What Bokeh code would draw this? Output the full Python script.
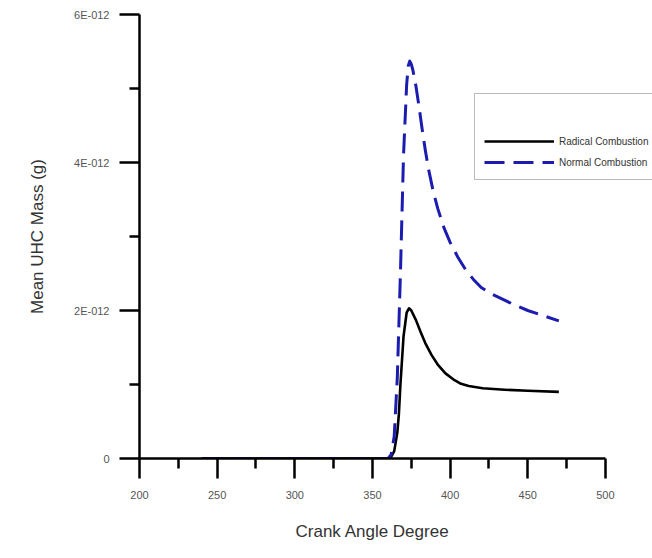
from bokeh.plotting import figure
from bokeh.models import Range1d, FixedTicker, CustomJSTickFormatter, Legend, LegendItem, Title
from bokeh.embed import file_html
from bokeh.resources import INLINE

# ---- data (crank angle in degrees, mean UHC mass in g) ----
normal_x = [240, 300, 360, 362, 364, 366, 368, 370, 372, 373, 374, 375, 376, 378, 380, 382, 384, 386,
            389, 392, 396, 400, 405, 410, 415, 420, 427, 434, 442, 450, 460, 470]
normal_y = [0, 0, 0, 0.05e-12, 0.3e-12, 1.1e-12, 2.5e-12, 4.1e-12, 5.05e-12, 5.3e-12, 5.37e-12,
            5.33e-12, 5.25e-12, 5.03e-12, 4.75e-12, 4.45e-12, 4.17e-12, 3.92e-12, 3.62e-12,
            3.38e-12, 3.12e-12, 2.92e-12, 2.72e-12, 2.55e-12, 2.42e-12, 2.31e-12, 2.22e-12,
            2.15e-12, 2.07e-12, 2.0e-12, 1.93e-12, 1.86e-12]

radical_x = [240, 300, 360, 362, 364, 366, 367, 368, 370, 372, 373.5, 375, 378, 381, 384, 388, 392,
             397, 402, 407, 412, 421, 435, 450, 470]
radical_y = [0, 0, 0, 0.02e-12, 0.1e-12, 0.35e-12, 0.6e-12, 1.0e-12, 1.65e-12, 1.97e-12, 2.03e-12,
             2.0e-12, 1.87e-12, 1.71e-12, 1.56e-12, 1.40e-12, 1.27e-12, 1.15e-12, 1.07e-12,
             1.01e-12, 0.98e-12, 0.95e-12, 0.93e-12, 0.915e-12, 0.90e-12]

x_ticks = [200, 250, 300, 350, 400, 450, 500]
x_minor = [225, 275, 325, 375, 425, 475]
y_ticks = [0, 2e-12, 4e-12, 6e-12]
y_minor = [1e-12, 3e-12, 5e-12]

x_label = "Crank Angle Degree"
y_label = "Mean UHC Mass (g)"
series_names = ["Radical Combustion", "Normal Combustion"]

# frame runs to the right edge so the legend can reach it; axis itself stops at 500
p = figure(width=652, height=558, output_backend="svg", toolbar_location=None,
           x_range=Range1d(200, 530.3), y_range=Range1d(0, 6e-12),
           min_border_left=139, min_border_right=0, min_border_top=14, min_border_bottom=100)
p.outline_line_color = None
p.xgrid.visible = False
p.ygrid.visible = False
p.background_fill_color = "white"
p.border_fill_color = "white"

r_black = p.line(radical_x, radical_y, line_color="black", line_width=2.6, line_join="round")
r_blue = p.line(normal_x, normal_y, line_color="#1c1cb0", line_width=3, line_dash="20 9",
                line_join="round")

for ax in (p.xaxis[0], p.yaxis[0]):
    ax.axis_line_width = 2.5
    ax.axis_line_color = "black"
    ax.major_tick_line_width = 2.5
    ax.minor_tick_line_width = 2.5
    ax.major_tick_line_color = "black"
    ax.minor_tick_line_color = "black"
    ax.major_tick_out = 20
    ax.major_tick_in = 0
    ax.minor_tick_out = 10
    ax.minor_tick_in = 0
    ax.major_label_text_font = "Liberation Sans"
    ax.major_label_text_font_size = "11px"
    ax.major_label_text_color = "#555555"
    ax.axis_label_text_font = "Liberation Sans"
    ax.axis_label_text_font_size = "17px"
    ax.axis_label_text_font_style = "normal"
    ax.axis_label_text_color = "#333333"

p.xaxis[0].bounds = (200, 500)
p.xaxis[0].ticker = FixedTicker(ticks=x_ticks, minor_ticks=x_minor)
p.yaxis[0].ticker = FixedTicker(ticks=y_ticks, minor_ticks=y_minor)
p.yaxis[0].formatter = CustomJSTickFormatter(code="""
    if (Math.abs(tick) < 1e-20) { return "0"; }
    return Math.round(tick / 1e-12) + "E-012";
""")
p.xaxis[0].major_label_standoff = 12
p.yaxis[0].major_label_standoff = 10
p.yaxis[0].axis_label = y_label
p.yaxis[0].axis_label_standoff = 24

# x-axis title, centred under the 200..500 axis (not the wider frame)
xt = Title(text=x_label, align="left", offset=156, standoff=36,
           text_font="Liberation Sans", text_font_size="17px", text_font_style="normal",
           text_color="#333333")
p.add_layout(xt, "below")

legend = Legend(items=[LegendItem(label=series_names[0], renderers=[r_black]),
                       LegendItem(label=series_names[1], renderers=[r_blue])],
                location=(335, 278), title=" ")
legend.title_text_font_size = "20px"
legend.title_standoff = 7
legend.label_text_font = "Liberation Sans"
legend.label_text_font_size = "10px"
legend.label_text_color = "#333333"
legend.glyph_width = 70
legend.glyph_height = 16
legend.label_height = 16
legend.spacing = 5
legend.padding = 9
legend.margin = 0
legend.label_standoff = 5
legend.border_line_color = "#777777"
legend.border_line_width = 1.5
legend.background_fill_alpha = 1.0
p.add_layout(legend, "center")

open("out.html", "w").write(file_html(p, INLINE))
